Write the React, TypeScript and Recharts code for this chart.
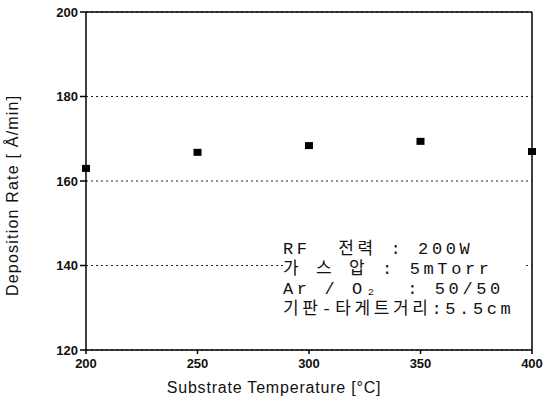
import { ScatterChart, Scatter, XAxis, YAxis, CartesianGrid, ReferenceLine } from "recharts";

const temps = [200, 250, 300, 350, 400];
const rates = [163.1, 166.9, 168.5, 169.5, 167.1];
const xTicks = [200, 250, 300, 350, 400];
const yTicks = [120, 140, 160, 180, 200];
const notes = ["RF  전력 : 200W", "가 스 압 : 5mTorr", "Ar / O₂  : 50/50", "기판-타게트거리:5.5cm"];

const data = temps.map((t, i) => ({ t, r: rates[i] }));

const Square = (p: any) => <rect x={p.cx - 4} y={p.cy - 3} width={8} height={7} fill="#000" />;

const font = "Liberation Sans, Arial, sans-serif";
const tickStyle = { fill: "#111", fontSize: 13, fontWeight: 700, fontFamily: font };

export default function App() {
  return (
    <div style={{ position: "absolute", left: 0, top: 0, width: 555, height: 402, background: "#fff" }}>
      <ScatterChart width={555} height={402} margin={{ top: 12, right: 23, bottom: 22, left: 20 }}>
        <CartesianGrid vertical={false} stroke="#222" strokeDasharray="2 3" />
        <XAxis
          type="number"
          dataKey="t"
          domain={[200, 400]}
          ticks={xTicks}
          stroke="#000"
          strokeWidth={1.5}
          tickSize={4}
          tick={{ ...tickStyle, dy: 3 }}
          label={{ value: "Substrate Temperature [°C]", position: "insideBottom", offset: -13, dx: -35, fill: "#111", fontSize: 16, letterSpacing: 0.8, fontFamily: font }}
        />
        <YAxis
          type="number"
          dataKey="r"
          domain={[120, 200]}
          ticks={yTicks}
          width={66}
          stroke="#000"
          strokeWidth={1.5}
          tickSize={6}
          tick={tickStyle}
          label={{ value: "Deposition  Rate [ Å/min]", angle: -90, position: "insideLeft", offset: -8, dy: 115, fill: "#111", fontSize: 16, letterSpacing: 1.2, fontFamily: font }}
        />
        <ReferenceLine x={400} stroke="#000" strokeWidth={1.5} />
        <ReferenceLine y={200} stroke="#000" strokeWidth={1.5} />
        <Scatter data={data} shape={Square} isAnimationActive={false} />
      </ScatterChart>
      <div
        style={{
          position: "absolute",
          left: 283,
          top: 240,
          width: 242,
          background: "#fff",
          fontFamily: "Liberation Mono, 'Noto Sans CJK KR', monospace",
          fontSize: 17,
          letterSpacing: 3.6,
          lineHeight: "20px",
          color: "#111",
          whiteSpace: "pre",
        }}
      >
        {notes.map((n) => (
          <div key={n}>{n}</div>
        ))}
      </div>
    </div>
  );
}
